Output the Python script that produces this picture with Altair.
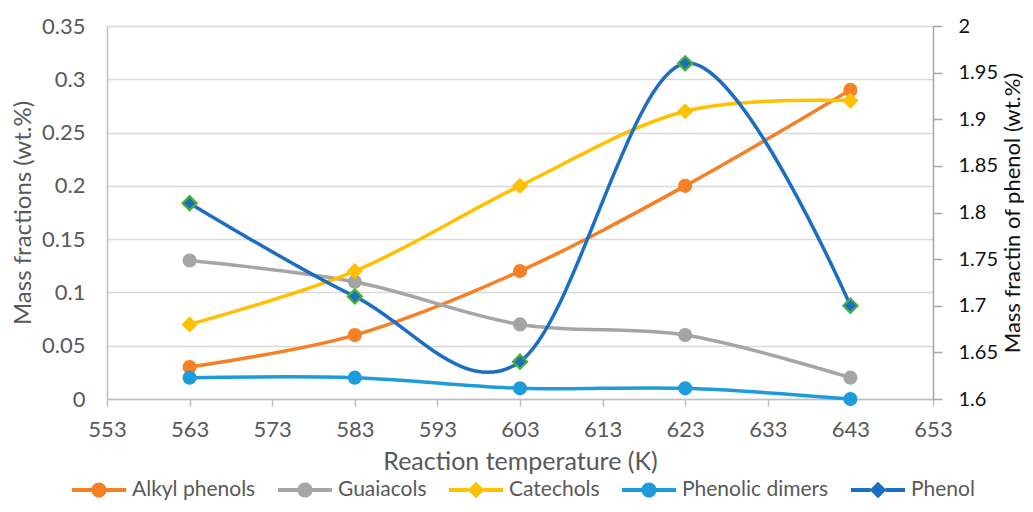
import altair as alt
import pandas as pd

# ---- data ----
temps = [563, 583, 603, 623, 643]
alkyl_phenols = [0.03, 0.06, 0.12, 0.20, 0.29]
guaiacols = [0.13, 0.11, 0.07, 0.06, 0.02]
catechols = [0.07, 0.12, 0.20, 0.27, 0.28]
phenolic_dimers = [0.02, 0.02, 0.01, 0.01, 0.00]
phenol = [1.81, 1.71, 1.64, 1.96, 1.70]

series_names = ["Alkyl phenols", "Guaiacols", "Catechols", "Phenolic dimers", "Phenol"]
series_colors = ["#F58025", "#A5A5A5", "#FFC000", "#1E9CD9", "#1B6EC2"]
phenol_marker_stroke = "#4CAF3A"

x_ticks = [553, 563, 573, 583, 593, 603, 613, 623, 633, 643, 653]
left_ticks = [0, 0.05, 0.1, 0.15, 0.2, 0.25, 0.3, 0.35]
right_ticks = [1.6, 1.65, 1.7, 1.75, 1.8, 1.85, 1.9, 1.95, 2.0]

# legend symbols: short line with marker
circle_sym = ("M-1,-0.075H-0.26V0.075H-1Z M0.26,-0.075H1V0.075H0.26Z "
              "M-0.28,0A0.28,0.28,0,1,1,0.28,0A0.28,0.28,0,1,1,-0.28,0Z")
diamond_sym = ("M-1,-0.075H-0.28V0.075H-1Z M0.28,-0.075H1V0.075H0.28Z "
               "M0,-0.31L0.31,0L0,0.31L-0.31,0Z")
legend_shapes = [circle_sym, circle_sym, diamond_sym, circle_sym, diamond_sym]

rows = []
for name, vals in zip(series_names, [alkyl_phenols, guaiacols, catechols, phenolic_dimers, phenol]):
    for t, v in zip(temps, vals):
        rows.append({"T": t, "series": name, "value": v})
df = pd.DataFrame(rows)

FONT = "Lato"
GREY_TXT = "#595959"

x_enc = alt.X("T:Q", scale=alt.Scale(domain=[553, 653], nice=False, zero=False),
              axis=alt.Axis(values=x_ticks, title="Reaction temperature (K)", grid=False,
                            domainColor="#BFBFBF", domainWidth=1.5, tickColor="#BFBFBF",
                            tickWidth=1.5, tickSize=7, labelPadding=13, labelFontSize=22,
                            labelColor=GREY_TXT, titleFontSize=25, titleColor=GREY_TXT,
                            titleFontWeight="normal", titlePadding=9, labelFont=FONT,
                            titleFont=FONT, format="d", labelFlush=False))

y_left = alt.Y("value:Q", scale=alt.Scale(domain=[0, 0.35], nice=False, zero=False),
               axis=alt.Axis(values=left_ticks, title="Mass fractions (wt.%)", grid=True,
                             gridColor="#D9D9D9", gridWidth=1.5, ticks=False,
                             domain=True, domainColor="#BFBFBF", domainWidth=1.5,
                             labelPadding=22, labelFontSize=22, labelColor=GREY_TXT,
                             titleFontSize=24, titleColor=GREY_TXT, titleFontWeight="normal",
                             titlePadding=6, labelFont=FONT, titleFont=FONT, format="~g"))

y_right = alt.Y("value:Q", scale=alt.Scale(domain=[1.6, 2.0], nice=False, zero=False),
                axis=alt.Axis(values=right_ticks, orient="right", title="Mass fractin of phenol (wt.%)",
                              grid=False, domainColor="#A6A6A6", domainWidth=1.5,
                              tickColor="#A6A6A6", tickWidth=1.5, tickSize=9, labelPadding=16,
                              labelFontSize=20, labelColor="#111111", titleFontSize=22,
                              titleColor="#111111", titleFontWeight="normal", titlePadding=5,
                              titleAngle=270, titleBaseline="top", labelFont=FONT, titleFont=FONT,
                              format="~g"))

color_scale = alt.Scale(domain=series_names, range=series_colors)
color_plain = alt.Color("series:N", scale=color_scale)

base = alt.Chart(df)
left_data = base.transform_filter(alt.datum.series != "Phenol")
right_data = base.transform_filter(alt.datum.series == "Phenol")

left_lines = left_data.mark_line(interpolate="cardinal", strokeWidth=3.5).encode(
    x=x_enc, y=y_left, color=color_plain, detail="series:N")
left_circles = left_data.transform_filter(alt.datum.series != "Catechols").mark_point(
    filled=True, shape="circle", size=200, opacity=1).encode(x=x_enc, y=y_left, color=color_plain)
left_diamonds = left_data.transform_filter(alt.datum.series == "Catechols").mark_point(
    filled=True, shape="diamond", size=260, opacity=1).encode(x=x_enc, y=y_left, color=color_plain)

legend_props = dict(title=None, orient="none", legendX=-35, legendY=437, direction="horizontal",
                    symbolOpacity=1, symbolSize=2916, symbolStrokeWidth=0, labelFont=FONT,
                    labelFontSize=21, labelColor=GREY_TXT, columnPadding=22, labelOffset=6)
legend_layer = base.mark_point(filled=True, opacity=0).encode(
    x=x_enc, y=y_left,
    color=alt.Color("series:N", scale=color_scale, legend=alt.Legend(**legend_props)),
    shape=alt.Shape("series:N", scale=alt.Scale(domain=series_names, range=legend_shapes),
                    legend=alt.Legend(**legend_props)),
)

left_layer = alt.layer(left_lines, left_circles, left_diamonds, legend_layer)

right_line = right_data.mark_line(interpolate="cardinal", strokeWidth=3.5).encode(
    x=x_enc, y=y_right, color=color_plain)
right_points = right_data.mark_point(filled=True, shape="diamond", size=200, opacity=1,
                                     stroke=phenol_marker_stroke, strokeWidth=2.2).encode(
    x=x_enc, y=y_right, color=color_plain)

right_layer = alt.layer(right_line, right_points)

chart = alt.layer(left_layer, right_layer).resolve_scale(y="independent").properties(
    width=826, height=373,
    autosize=alt.AutoSizeParams(type="none"),
    padding={"left": 99, "top": 18, "right": 91, "bottom": 102},
).configure_view(stroke=None).configure_legend(disable=True).configure(background="white")

chart.save("out.html", embed_options={"renderer": "svg", "actions": False})
